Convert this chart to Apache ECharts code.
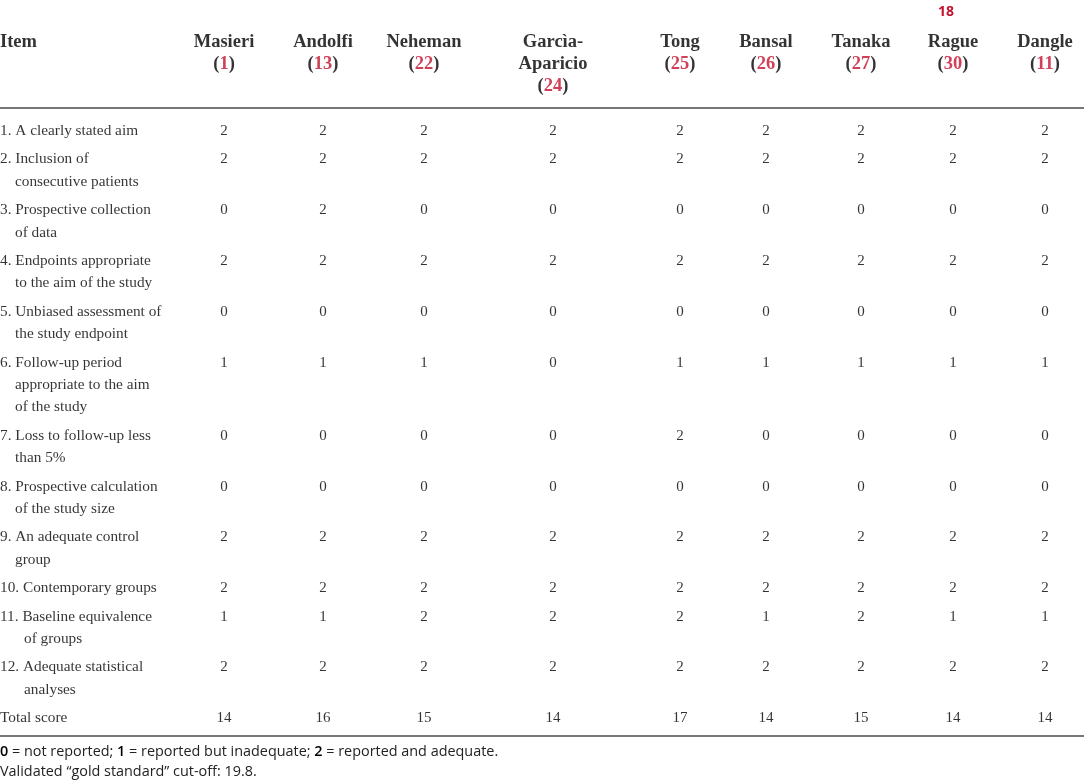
<!DOCTYPE html>
<html>
<head>
<meta charset="utf-8">
<title>quality table</title>
<script src="https://cdn.jsdelivr.net/npm/echarts@6/dist/echarts.min.js"></script>
<style>html,body{margin:0;padding:0;background:#fff;}</style>
</head>
<body>
<div id="main" style="width:1084px;height:784px;"></div>
<script type="text/javascript">
// study columns and their reference numbers
var studies = ['Masieri', 'Andolfi', 'Neheman', 'Garcìa-\nAparicio', 'Tong', 'Bansal', 'Tanaka', 'Rague', 'Dangle'];
var refs = [1, 13, 22, 24, 25, 26, 27, 30, 11];

// row labels
var items = [
    '1. A clearly stated aim',
    '2. Inclusion of\nconsecutive patients',
    '3. Prospective collection\nof data',
    '4. Endpoints appropriate\nto the aim of the study',
    '5. Unbiased assessment of\nthe study endpoint',
    '6. Follow-up period\nappropriate to the aim\nof the study',
    '7. Loss to follow-up less\nthan 5%',
    '8. Prospective calculation\nof the study size',
    '9. An adequate control\ngroup',
    '10. Contemporary groups',
    '11. Baseline equivalence\nof groups',
    '12. Adequate statistical\nanalyses'
];

// scores per study (items 1..12)
var masieri = [2, 2, 0, 2, 0, 1, 0, 0, 2, 2, 1, 2];
var andolfi = [2, 2, 2, 2, 0, 1, 0, 0, 2, 2, 1, 2];
var neheman = [2, 2, 0, 2, 0, 1, 0, 0, 2, 2, 2, 2];
var garcia  = [2, 2, 0, 2, 0, 0, 0, 0, 2, 2, 2, 2];
var tong    = [2, 2, 0, 2, 0, 1, 2, 0, 2, 2, 2, 2];
var bansal  = [2, 2, 0, 2, 0, 1, 0, 0, 2, 2, 1, 2];
var tanaka  = [2, 2, 0, 2, 0, 1, 0, 0, 2, 2, 2, 2];
var rague   = [2, 2, 0, 2, 0, 1, 0, 0, 2, 2, 1, 2];
var dangle  = [2, 2, 0, 2, 0, 1, 0, 0, 2, 2, 1, 2];
var totals  = [14, 16, 15, 14, 17, 14, 15, 14, 14];
var scores = [masieri, andolfi, neheman, garcia, tong, bansal, tanaka, rague, dangle];

// layout (pixels)
var colX = [224, 323, 424, 553, 680, 766, 861, 953, 1045];
var headY = 42, firstRowY = 131, lineH = 22.4, rowPad = 6;
var serif = '"Liberation Serif", "DejaVu Serif", serif';
var sans = '"Open Sans", "Noto Sans", sans-serif';
var ink = '#000';
var red = '#c4122f';

var rowY = [];
var y = firstRowY;
for (var i = 0; i < items.length; i++) {
    rowY.push(y);
    y += items[i].split('\n').length * lineH + rowPad;
}
var totalY = y;

var cells = [];
for (var s = 0; s < scores.length; s++) {
    for (var r = 0; r < items.length; r++) {
        cells.push([colX[s], rowY[r], scores[s][r]]);
    }
    cells.push([colX[s], totalY, totals[s]]);
}

var itemPts = [];
for (var r = 0; r < items.length; r++) {
    itemPts.push({value: [0, rowY[r]], txt: items[r]});
}
itemPts.push({value: [0, totalY], txt: 'Total score'});

var headPts = [{value: [0, headY], txt: '{h|Item}'}];
for (var s = 0; s < studies.length; s++) {
    headPts.push({
        value: [colX[s], headY],
        txt: studies[s].split('\n').map(function (l) { return '{h|' + l + '}'; }).join('\n') +
            '\n{h|(}{r|' + refs[s] + '}{h|)}'
    });
}

var myChart = echarts.init(document.getElementById('main'));
var option = {
    animation: false,
    backgroundColor: '#fff',
    title: [
        {
            text: '18', left: 933, top: 0,
            textStyle: {fontFamily: sans, fontSize: 14, fontWeight: 'bold', color: red}
        },
        {
            text: '{b|0} = not reported; {b|1} = reported but inadequate; {b|2} = reported and adequate.',
            left: 0, top: 745, padding: 0,
            textStyle: {
                fontFamily: sans, fontSize: 14.4, fontWeight: 'normal', color: '#222',
                rich: {b: {fontFamily: sans, fontSize: 14.4, fontWeight: 600, color: '#000'}}
            }
        },
        {
            text: 'Validated “gold standard” cut-off: 19.8.',
            left: 0, top: 765, padding: 0,
            textStyle: {fontFamily: sans, fontSize: 14.4, fontWeight: 'normal', color: '#222'}
        }
    ],
    grid: {left: 0, right: 0, top: 0, bottom: 0},
    xAxis: {type: 'value', min: 0, max: 1084, show: false},
    yAxis: {type: 'value', min: 0, max: 784, inverse: true, show: false},
    series: [
        {
            name: 'cells',
            type: 'scatter',
            symbolSize: 0,
            silent: true,
            data: cells,
            label: {
                show: true,
                position: [0, 0],
                align: 'center',
                verticalAlign: 'middle',
                fontFamily: serif,
                fontSize: 15,
                color: ink,
                formatter: function (p) { return p.value[2]; }
            },
            markLine: {
                silent: true,
                symbol: ['none', 'none'],
                label: {show: false},
                lineStyle: {color: '#4a4a4a', width: 1.5, type: 'solid'},
                data: [{yAxis: 108}, {yAxis: 736}]
            }
        },
        {
            name: 'items',
            type: 'scatter',
            symbolSize: 0,
            silent: true,
            data: itemPts,
            label: {
                show: true,
                position: [0, -lineH / 2],
                align: 'left',
                verticalAlign: 'top',
                formatter: function (p) {
                    var lines = p.data.txt.split('\n');
                    var ind = /^1\d\./.test(lines[0]) ? 'd' : 'c';
                    return lines.map(function (l, k) {
                        return k === 0 ? '{a|' + l + '}' : '{' + ind + '|' + l + '}';
                    }).join('\n');
                },
                rich: {
                    a: {fontFamily: serif, fontSize: 15.3, color: ink, lineHeight: lineH},
                    c: {fontFamily: serif, fontSize: 15.3, color: ink, lineHeight: lineH, padding: [0, 0, 0, 15]},
                    d: {fontFamily: serif, fontSize: 15.3, color: ink, lineHeight: lineH, padding: [0, 0, 0, 24]}
                }
            }
        },
        {
            name: 'head',
            type: 'scatter',
            symbolSize: 0,
            silent: true,
            data: headPts,
            label: {
                show: true,
                position: [0, -11],
                verticalAlign: 'top',
                formatter: function (p) { return p.data.txt; },
                rich: {
                    h: {fontFamily: serif, fontSize: 18.5, fontWeight: 'bold', color: ink, lineHeight: 22},
                    r: {fontFamily: serif, fontSize: 18.5, fontWeight: 'bold', color: red, lineHeight: 22}
                }
            },
            labelLayout: function (p) {
                return p.dataIndex === 0 ? {align: 'left'} : {align: 'center'};
            }
        }
    ]
};
myChart.setOption(option);
</script>
</body>
</html>
